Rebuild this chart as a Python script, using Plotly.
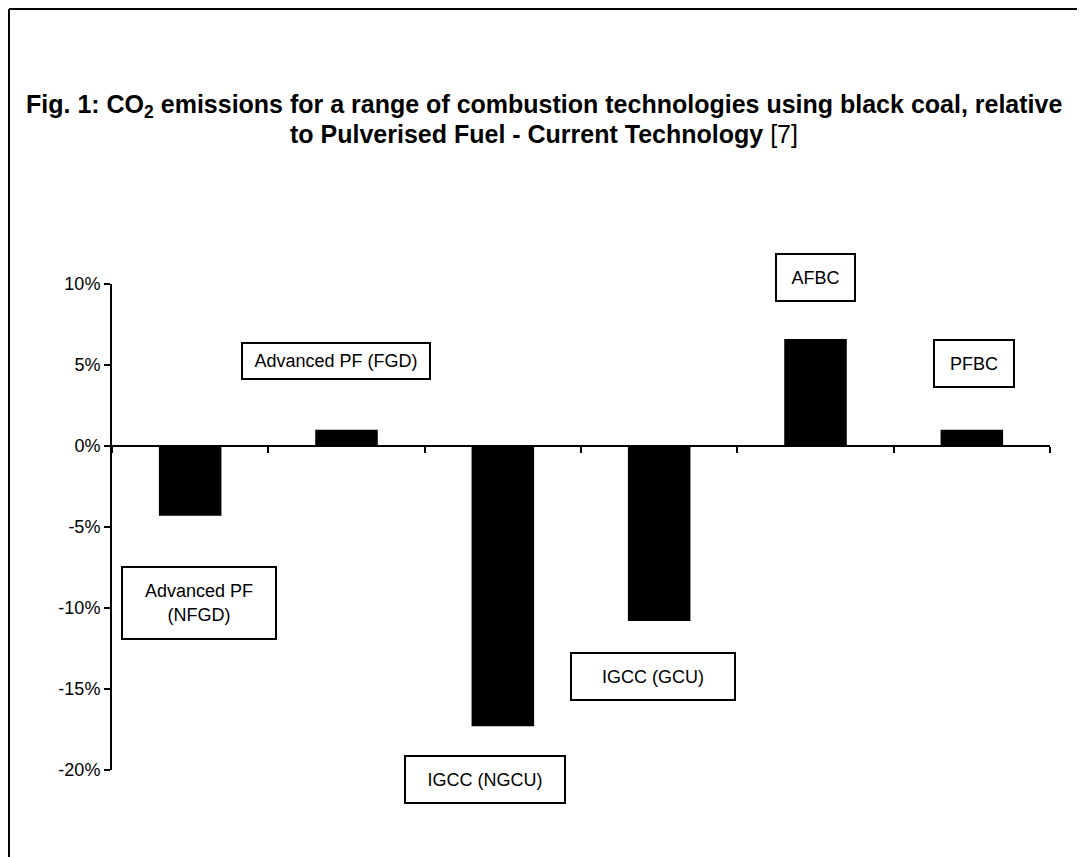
import plotly.graph_objects as go

# ---- data ----
categories = ["Advanced PF (NFGD)", "Advanced PF (FGD)", "IGCC (NGCU)",
              "IGCC (GCU)", "AFBC", "PFBC"]
values = [-4.3, 1.0, -17.3, -10.8, 6.6, 1.0]
label_texts = ["Advanced PF<br>(NFGD)", "Advanced PF (FGD)", "IGCC (NGCU)",
               "IGCC (GCU)", "AFBC", "PFBC"]
y_ticks = [-20, -15, -10, -5, 0, 5, 10]
y_ticktext = ["-20%", "-15%", "-10%", "-5%", "0%", "5%", "10%"]
y_min, y_max = -20, 10
title_lines = ["<b>Fig. 1: CO<sub>2</sub> emissions for a range of combustion technologies using black coal, relative</b>",
               "<b>to Pulverised Fuel - Current Technology</b> [7]"]

# ---- label box placement (layout only) ----
label_x = [0.057, 0.933, 1.886, 2.961, 4.003, 5.014]
label_y = [-9.69, 5.25, -20.56, -14.2, 10.43, 5.12]
label_w = [150, 184, 156, 160, 75, 76]
label_h = [68, 32, 43, 43, 43, 43]

# page body has an 8px margin -> figure is 8px smaller and shifted
W, H = 1077, 849
L, R, T, B = 104, 35, 276, 87
pw, ph = W - L - R, H - T - B


def fig_x(px):
    return (px - L) / pw


def fig_y(py):
    return (H - B - py) / ph


def ref_x(px):
    return fig_x(px - 8)


def ref_y(py):
    return fig_y(py - 8)


fig = go.Figure()
fig.add_trace(go.Bar(x=categories, y=values, width=0.4,
                     marker=dict(color="black", line=dict(width=0)),
                     showlegend=False, hoverinfo="skip"))

font = "Liberation Sans, Arial, sans-serif"
for i, c in enumerate(categories):
    fig.add_annotation(x=label_x[i], y=(label_y[i] - y_min) / (y_max - y_min),
                       xref="x", yref="paper", xanchor="center", yanchor="middle",
                       text=label_texts[i], showarrow=False,
                       font=dict(family=font, size=18, color="black"),
                       bgcolor="white", bordercolor="black", borderwidth=2,
                       borderpad=1, width=label_w[i], height=label_h[i],
                       align="center", valign="middle")

title_y = [106, 134]
for t, yy in zip(title_lines, title_y):
    fig.add_annotation(xref="paper", yref="paper",
                       x=ref_x(544), y=ref_y(yy),
                       xanchor="center", yanchor="middle", showarrow=False,
                       text=t, font=dict(family=font, size=25, color="black"),
                       align="center")

# outer frame (cropped: only top and left edges visible)
fig.add_shape(type="line", xref="paper", yref="paper",
              x0=fig_x(1), x1=fig_x(W + 5), y0=fig_y(1), y1=fig_y(1),
              line=dict(color="black", width=2))
fig.add_shape(type="line", xref="paper", yref="paper",
              x0=fig_x(1), x1=fig_x(1), y0=fig_y(1), y1=fig_y(H + 5),
              line=dict(color="black", width=2))

fig.update_layout(
    width=W, height=H,
    margin=dict(l=L, r=R, t=T, b=B, autoexpand=False),
    paper_bgcolor="white", plot_bgcolor="white",
    font=dict(family=font, size=18, color="black"),
    xaxis=dict(type="category", range=[-0.5, 5.5], anchor="free",
               position=(0 - y_min) / (y_max - y_min),
               showline=True, linecolor="black", linewidth=2,
               ticks="outside", tickson="boundaries", ticklen=6, tickwidth=2,
               tickcolor="black", showticklabels=False, showgrid=False, zeroline=False),
    yaxis=dict(range=[y_min, y_max], tickvals=y_ticks, ticktext=y_ticktext,
               showline=True, linecolor="black", linewidth=2,
               ticks="outside", ticklen=6, tickwidth=2, tickcolor="black",
               showgrid=False, zeroline=False,
               tickfont=dict(family=font, size=18, color="black")),
)

fig.write_html("out.html")
